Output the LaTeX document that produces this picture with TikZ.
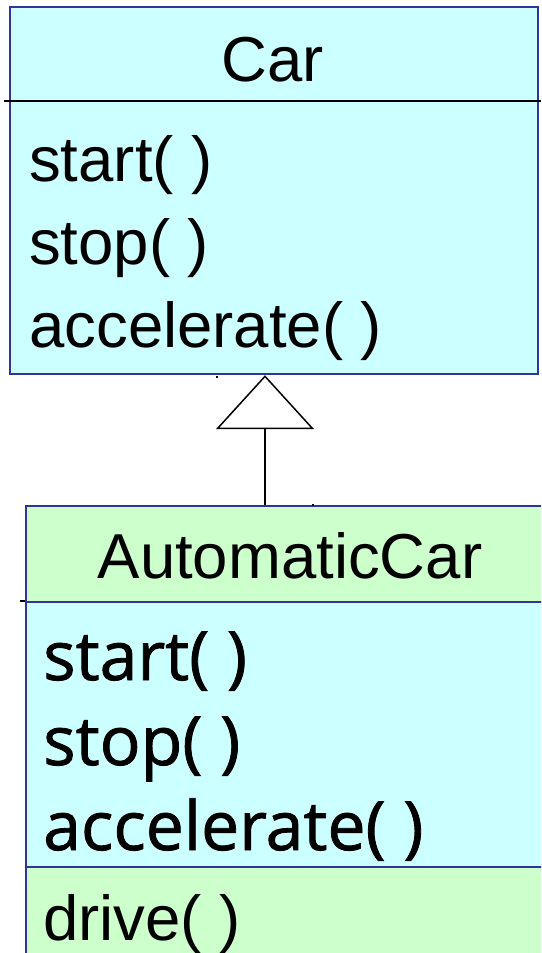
\documentclass[tikz,border=0pt]{standalone}
\usepackage{fontspec}
\setmainfont{Liberation Sans}
\newfontfamily\handfont[FakeBold=1.2]{Open Sans}
\usetikzlibrary{arrows.meta}

\definecolor{classcyan}{HTML}{CCFFFF}
\definecolor{classgreen}{HTML}{CCFFCC}
\definecolor{classedge}{HTML}{333399}

\tikzset{
  compartment/.style={rectangle, draw=classedge, line width=2.2pt, inner sep=0pt, anchor=north west},
  cyanpart/.style={compartment, fill=classcyan},
  greenpart/.style={compartment, fill=classgreen},
  classname/.style={anchor=base, inner sep=0pt, font=\fontsize{63.5}{76}\selectfont},
  operation/.style={anchor=base west, inner sep=0pt, font=\fontsize{63.5}{76}\selectfont},
  handop/.style={anchor=base west, inner sep=0pt, font=\handfont\fontsize{68}{80}\selectfont},
  generalization/.style={line width=2.8pt, -{Triangle[open, length=54pt, width=98pt, line width=1.5pt]}},
  speck/.style={fill=black, inner sep=0pt, minimum size=2pt}
}

\begin{document}
\begin{tikzpicture}[x=1pt, y=-1pt]
  \clip (0,0) rectangle (541,953);
  \fill[white] (0,0) rectangle (541,953);

  % class Car
  \node[cyanpart, minimum width=528pt, minimum height=367pt] (car) at (9,6) {};
  \draw[black, line width=1.5pt] (4,101) -- (541,101);
  \node[classname] (carname) at (273,81) {Car};
  \node[operation] (carstart) at (29,181) {start( )};
  \node[operation] (carstop)  at (29,264) {stop( )};
  \node[operation] (caraccel) at (29,347) {accelerate( )};

  % class AutomaticCar
  \node[greenpart, minimum width=560pt, minimum height=96pt]  (autohead) at (25,505) {};
  \node[cyanpart,  minimum width=560pt, minimum height=265pt] (autoinh)  at (25,601) {};
  \node[greenpart, minimum width=560pt, minimum height=120pt] (autonew)  at (25,866) {};
  \draw[black, line width=2pt] (20,601) -- (25,601);
  \node[classname] (autoname) at (290,578) {AutomaticCar};
  \node[handop] (autostart) at (43,680) {start( )};
  \node[handop] (autostop)  at (43,765) {stop( )};
  \node[handop] (autoaccel) at (43,850) {accelerate( )};
  \node[operation] (autodrive) at (43,940) {drive( )};

  % inheritance arrow
  \coordinate (genfoot) at (265,505);
  \draw[generalization] (genfoot) -- (genfoot |- car.south);

  % stray specks
  \node[speck] (speckA) at (217,377) {};
  \node[speck] (speckB) at (313,505) {};
\end{tikzpicture}
\end{document}
